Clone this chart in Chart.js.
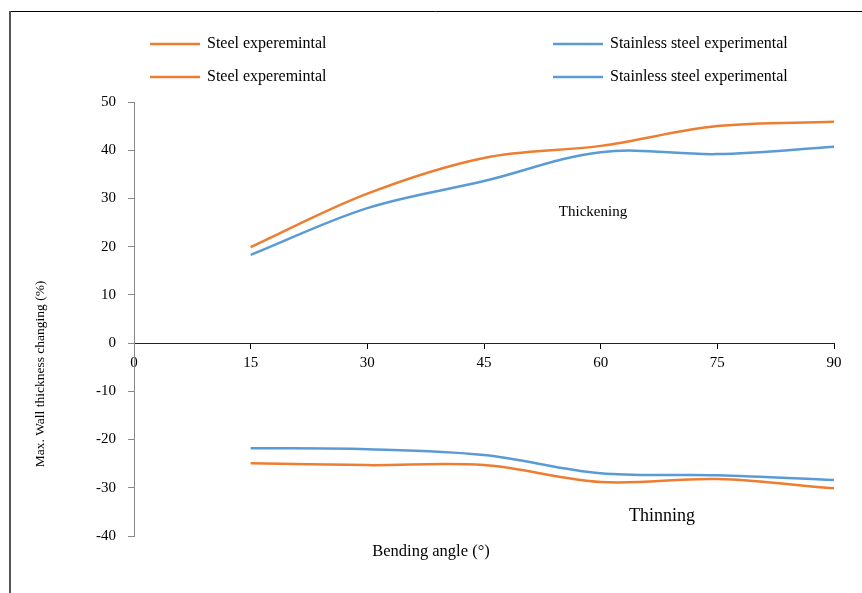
<!DOCTYPE html>
<html>
<head>
<meta charset="utf-8">
<title>Wall thickness changing</title>
<script src="https://cdn.jsdelivr.net/npm/chart.js@4/dist/chart.umd.min.js"></script>
<style>
  html, body { margin: 0; padding: 0; background: #fff; }
  canvas { display: block; }
</style>
</head>
<body>
<canvas id="wallChart" width="862" height="593"></canvas>
<script>
// bending angles (deg)
const angles = [15, 30, 45, 60, 75, 90];
// max wall thickness changing (%)
const steelThickening = [19.9, 31, 38.4, 40.9, 45, 45.9];
const stainlessThickening = [18.3, 28, 33.6, 39.6, 39.2, 40.7];
const steelThinning = [-24.9, -25.3, -25.3, -28.8, -28.2, -30.1];
const stainlessThinning = [-21.8, -22, -23.2, -27, -27.4, -28.4];
const seriesLabels = ['Steel experemintal', 'Stainless steel experimental', 'Steel experemintal', 'Stainless steel experimental'];
const xTicks = [0, 15, 30, 45, 60, 75, 90];
const yTicks = [-40, -30, -20, -10, 0, 10, 20, 30, 40, 50];

const ORANGE = '#ED7D31';
const BLUE = '#5B9BD5';
const SERIF = "'Liberation Serif', 'Times New Roman', serif";

function toPoints(values) {
    return angles.map((a, i) => ({ x: a, y: values[i] }));
}

function makeSet(label, values, color) {
    return {
        label: label,
        data: toPoints(values),
        borderColor: color,
        backgroundColor: color,
        borderWidth: 2.5,
        pointRadius: 0,
        tension: 0.35,
        fill: false
    };
}

// legend, axis titles, annotations and outer frame
const extrasPlugin = {
    id: 'extras',
    afterDraw(chart) {
        const c = chart.ctx;
        c.save();

        // frame
        c.strokeStyle = '#000';
        c.lineWidth = 1;
        c.beginPath();
        c.moveTo(9, 11.5);
        c.lineTo(862, 11.5);
        c.stroke();
        c.strokeStyle = '#555';
        c.lineWidth = 2;
        c.beginPath();
        c.moveTo(10, 11);
        c.lineTo(10, 593);
        c.stroke();

        // legend (2 columns x 2 rows)
        c.font = '16px ' + SERIF;
        c.textBaseline = 'middle';
        c.textAlign = 'left';
        chart.data.datasets.forEach((ds, i) => {
            const col = i % 2;
            const row = Math.floor(i / 2);
            const lx = col === 0 ? 150 : 553;
            const ly = row === 0 ? 44 : 77;
            c.strokeStyle = ds.borderColor;
            c.lineWidth = 2.5;
            c.beginPath();
            c.moveTo(lx, ly);
            c.lineTo(lx + 50, ly);
            c.stroke();
            c.fillStyle = '#000';
            c.fillText(seriesLabels[i], lx + 57, ly);
        });

        // axis titles
        c.fillStyle = '#000';
        c.textAlign = 'center';
        c.font = '16.5px ' + SERIF;
        c.fillText('Bending angle (°)', 431, 552);
        c.save();
        c.translate(40, 374);
        c.rotate(-Math.PI / 2);
        c.font = '13.5px ' + SERIF;
        c.fillText('Max. Wall thickness changing (%)', 0, 0);
        c.restore();

        // region annotations
        c.font = '15px ' + SERIF;
        c.fillText('Thickening', 593, 212);
        c.font = '18px ' + SERIF;
        c.fillText('Thinning', 662, 516);

        c.restore();
    }
};

const ctx = document.getElementById('wallChart');
const wallChart = new Chart(ctx, {
    type: 'line',
    data: {
        datasets: [
            makeSet(seriesLabels[0], steelThickening, ORANGE),
            makeSet(seriesLabels[1], stainlessThickening, BLUE),
            makeSet(seriesLabels[2], steelThinning, ORANGE),
            makeSet(seriesLabels[3], stainlessThinning, BLUE)
        ]
    },
    options: {
        responsive: false,
        animation: false,
        layout: {
            padding: { left: 0, top: 102, right: 28, bottom: 57 }
        },
        plugins: {
            legend: { display: false },
            tooltip: { enabled: false }
        },
        scales: {
            x: {
                type: 'linear',
                position: { y: 0 },
                min: 0,
                max: 90,
                afterFit(scale) { scale.height = 0; },
                afterBuildTicks(scale) { scale.ticks = xTicks.map(v => ({ value: v })); },
                grid: {
                    drawOnChartArea: false,
                    drawTicks: true,
                    tickLength: 5,
                    color: '#000'
                },
                border: { color: '#222', width: 1 },
                ticks: {
                    color: '#000',
                    padding: 6,
                    maxRotation: 0,
                    font: { family: SERIF, size: 15 }
                }
            },
            y: {
                min: -40,
                max: 50,
                afterFit(scale) { scale.width = 134; },
                afterBuildTicks(scale) { scale.ticks = yTicks.map(v => ({ value: v })); },
                grid: {
                    drawOnChartArea: false,
                    drawTicks: true,
                    tickLength: 6,
                    color: '#888'
                },
                border: { color: '#888', width: 1 },
                ticks: {
                    color: '#000',
                    padding: 12,
                    font: { family: SERIF, size: 15 }
                }
            }
        }
    },
    plugins: [extrasPlugin]
});
</script>
</body>
</html>
